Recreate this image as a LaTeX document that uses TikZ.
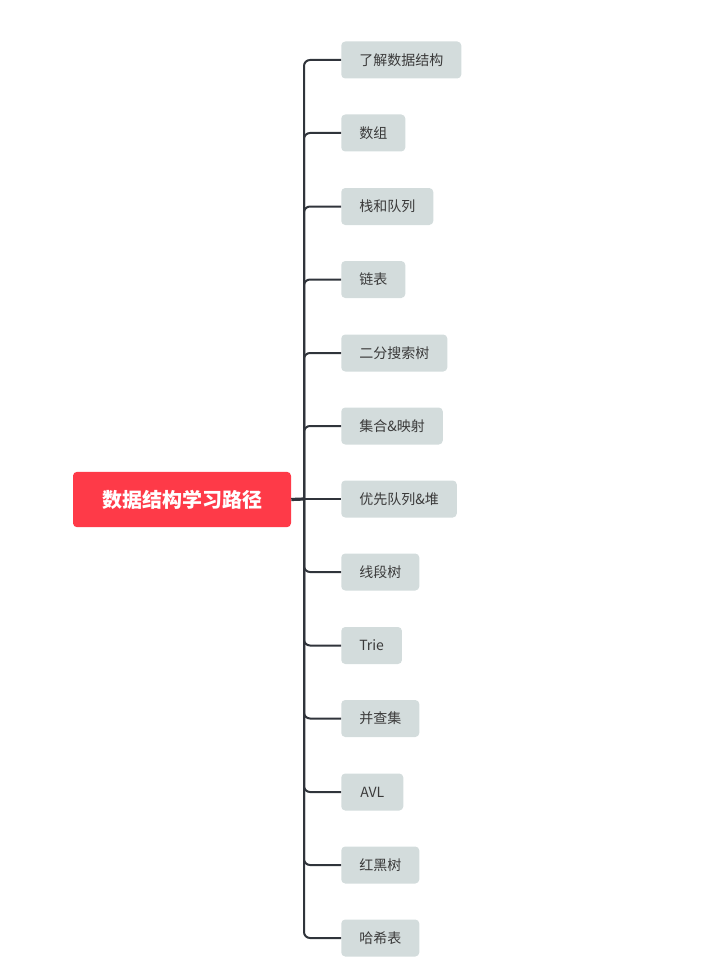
\documentclass[tikz,border=0pt]{standalone}
\usepackage{fontspec}
\setmainfont{Noto Sans CJK SC}
\definecolor{rootred}{HTML}{FE3A48}
\definecolor{leafgrey}{HTML}{D3DCDC}
\definecolor{linecol}{HTML}{30343B}
\definecolor{leaftext}{HTML}{3A3A3A}
\tikzset{
  rootbox/.style={draw=none, fill=rootred, rounded corners=3pt, minimum width=163.5pt, minimum height=41.5pt, text=white, font=\fontsize{15}{18}\selectfont\bfseries, inner sep=0pt},
  leafbox/.style={draw=none, fill=leafgrey, rounded corners=3pt, minimum height=27.75pt, inner xsep=13.5pt, inner ysep=0pt, text=leaftext, font=\fontsize{10.5}{12}\selectfont, anchor=west},
  branch/.style={draw=linecol, line width=1.5pt, rounded corners=4.5pt},
  rootlink/.style={draw=linecol, line width=2.4pt}
}
\begin{document}
\begin{tikzpicture}[x=0.75pt,y=-0.75pt]
\useasboundingbox (0,0) rectangle (711,977);
\node[rootbox] (root) at (182,499.5) {数据结构学习路径};
\coordinate (J) at (304,499);
\node[leafbox, minimum width=89.25pt] (c1) at (341,60) {了解数据结构};
\node[leafbox, minimum width=47.25pt] (c2) at (341,133) {数组};
\node[leafbox, minimum width=68.25pt] (c3) at (341,206.5) {栈和队列};
\node[leafbox, minimum width=47.25pt] (c4) at (341,279.5) {链表};
\node[leafbox, minimum width=78.75pt] (c5) at (341,353) {二分搜索树};
\node[leafbox, minimum width=75pt] (c6) at (341,426) {集合\&映射};
\node[leafbox, minimum width=85.5pt] (c7) at (341,499) {优先队列\&堆};
\node[leafbox, minimum width=57.75pt] (c8) at (341,572) {线段树};
\node[leafbox, minimum width=43.5pt] (c9) at (341,645.5) {Trie};
\node[leafbox, minimum width=57.75pt] (c10) at (341,718.5) {并查集};
\node[leafbox, minimum width=46.5pt] (c11) at (341,792) {AVL};
\node[leafbox, minimum width=57.75pt] (c12) at (341,865) {红黑树};
\node[leafbox, minimum width=57.75pt] (c13) at (341,938) {哈希表};
\draw[rootlink] (root.east) -- (J);
\foreach \c in {c1,c2,c3,c4,c5,c6,c8,c9,c10,c11,c12,c13}
  \draw[branch] (J) |- (\c.west);
\draw[branch] (J) -- (c7.west);
\end{tikzpicture}
\end{document}
